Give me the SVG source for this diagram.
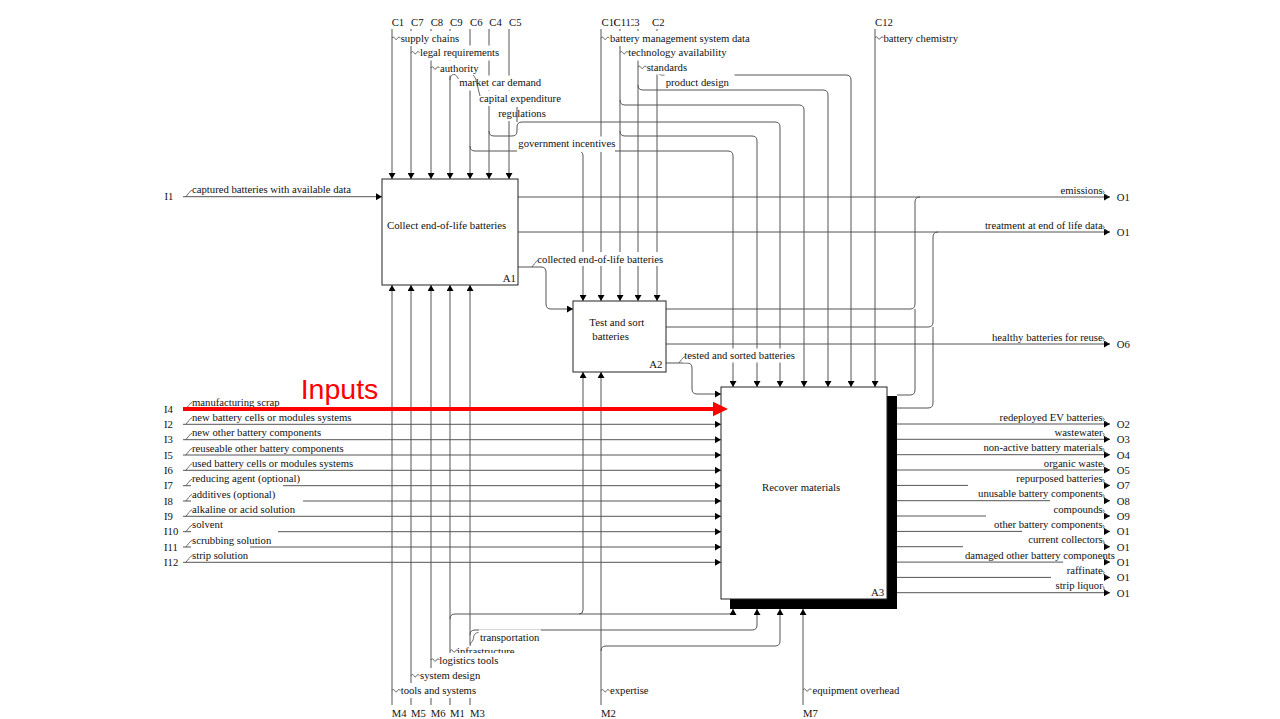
<svg xmlns="http://www.w3.org/2000/svg" xmlns:xlink="http://www.w3.org/1999/xlink" width="1280" height="719" viewBox="0 0 1280 719">
<style>
  .ln{fill:none;stroke:#555;stroke-width:1}
  .ar{marker-end:url(#ah)}
  .bx{fill:#fff;stroke:#222;stroke-width:1}
  .t{font-family:"Liberation Serif","Times New Roman",serif;font-size:10.7px;fill:#111}
  .tb{font-family:"Liberation Serif","Times New Roman",serif;font-size:10.8px;fill:#111}
  .e{text-anchor:end}
  .bg{fill:#fff}
  .sq{fill:none;stroke:#444;stroke-width:0.8}
</style>
<defs>
  <marker id="ah" markerUnits="userSpaceOnUse" markerWidth="6" markerHeight="7" refX="6" refY="3.5" orient="auto">
    <path d="M0,0L6,3.5L0,7z" fill="#000"/>
  </marker>
  <!-- label leader squiggles -->
  <path id="sqIn" d="M0,0c1.2,-0.8 1.2,-2.6 2.4,-3.2c1.2,-0.6 1,-2.4 3.6,-3.3"/>
  <path id="sqTop" d="M0,0c0.8,-1.6 2,-1.6 2.8,0c0.8,1.6 2,1.6 2.8,0c0.8,-1.6 2,-1.6 2.8,0"/>
  <path id="sqOut" d="M0,0c1.6,0 2.2,1.2 1.2,2.2c-0.8,0.9 1.6,1.3 2.2,2.3c0.4,0.8 1,1 1.8,1.2"/>
</defs>

<rect width="1280" height="719" fill="#fff"/>

<g id="connectors" class="ln">
  <!-- controls of A1 -->
  <path class="ar" d="M392,29V179"/>
  <path class="ar" d="M411,29V179"/>
  <path class="ar" d="M431,29V179"/>
  <path class="ar" d="M450,29V179"/>
  <path class="ar" d="M470,29V179"/>
  <path class="ar" d="M489,29V179"/>
  <path class="ar" d="M509,29V179"/>
  <path class="ar" d="M470,146Q470,151 475,151H728Q733,151 733,156V387"/>
  <path class="ar" d="M578,151Q583,151 583,156V301"/>
  <path class="ar" d="M489,131Q489,136 494,136H512Q517,136 517,131V127Q517,122 522,122H775Q780,122 780,127V387"/>
  <!-- controls of A2 / A3 -->
  <path class="ar" d="M601,29V301"/>
  <path class="ar" d="M620,29V301"/>
  <path class="ar" d="M638,29V301"/>
  <path class="ar" d="M657,29V301"/>
  <path class="ar" d="M620,100Q620,105 625,105H799Q804,105 804,110V387"/>
  <path class="ar" d="M620,131Q620,136 625,136H752Q757,136 757,141V387"/>
  <path class="ar" d="M638,85Q638,90 643,90H823Q828,90 828,95V387"/>
  <path class="ar" d="M657,70Q657,75 662,75H846Q851,75 851,80V387"/>
  <path class="ar" d="M875,29V387"/>
  <!-- inputs -->
  <path class="ar" d="M183,196.7H382"/>
  <path class="ar" d="M183,409H721"/>
  <path class="ar" d="M183,424.3H721"/>
  <path class="ar" d="M183,439.7H721"/>
  <path class="ar" d="M183,455H721"/>
  <path class="ar" d="M183,470.3H721"/>
  <path class="ar" d="M183,485.7H721"/>
  <path class="ar" d="M183,501H721"/>
  <path class="ar" d="M183,516.3H721"/>
  <path class="ar" d="M183,531.7H721"/>
  <path class="ar" d="M183,547H721"/>
  <path class="ar" d="M183,562.3H721"/>
  <!-- A1 outputs -->
  <path class="ar" d="M518,197H1110"/>
  <path class="ar" d="M518,232H1110"/>
  <path class="ar" d="M518,267H541Q546,267 546,272V304Q546,309 551,309H573"/>
  <!-- A2 outputs -->
  <path d="M666,309H910Q915,309 915,304V202Q915,197 920,197"/>
  <path d="M666,327H928Q933,327 933,322V237Q933,232 938,232"/>
  <path class="ar" d="M666,344H1110"/>
  <path class="ar" d="M666,363H687Q692,363 692,368V389Q692,394 697,394H721"/>
  <!-- A3 outputs -->
  <path d="M897,395H910Q915,395 915,390V309"/>
  <path d="M897,408H928Q933,408 933,403V327"/>
  <path class="ar" d="M897,424H1110"/>
  <path class="ar" d="M897,439.3H1110"/>
  <path class="ar" d="M897,454.7H1110"/>
  <path class="ar" d="M897,470H1110"/>
  <path class="ar" d="M897,485.4H1110"/>
  <path class="ar" d="M897,500.7H1110"/>
  <path class="ar" d="M897,516H1110"/>
  <path class="ar" d="M897,531.4H1110"/>
  <path class="ar" d="M897,546.7H1110"/>
  <path class="ar" d="M897,562.1H1110"/>
  <path class="ar" d="M897,577.4H1110"/>
  <path class="ar" d="M897,592.7H1110"/>
  <!-- mechanisms -->
  <path class="ar" d="M392,705V285"/>
  <path class="ar" d="M411,705V285"/>
  <path class="ar" d="M431,705V285"/>
  <path class="ar" d="M450,705V285"/>
  <path class="ar" d="M470,705V285"/>
  <path class="ar" d="M450,619Q450,614 455,614H728Q733,614 733,610V609"/>
  <path class="ar" d="M579,614Q583,614 583,610V372"/>
  <path class="ar" d="M470,635Q470,630 475,630H752Q757,630 757,625V609"/>
  <path class="ar" d="M601,705V372"/>
  <path class="ar" d="M601,651Q601,646 606,646H775Q780,646 780,641V609"/>
  <path class="ar" d="M803,705V609"/>
</g>

<g id="arrow-labels">
  <!-- control labels -->
  <rect class="bg" x="399.5" y="31" width="62" height="15"/>
  <text class="t" x="400.7" y="42">supply chains</text>
  <rect class="bg" x="419" y="45.5" width="81" height="15"/>
  <text class="t" x="420" y="56.3">legal requirements</text>
  <rect class="bg" x="439" y="60.5" width="39" height="15"/>
  <text class="t" x="440" y="71.5">authority</text>
  <rect class="bg" x="458" y="75.5" width="88" height="15"/>
  <text class="t" x="459.3" y="86.2">market car demand</text>
  <rect class="bg" x="478" y="91" width="85" height="15"/>
  <text class="t" x="479.3" y="101.8">capital expenditure</text>
  <rect class="bg" x="497" y="106" width="49" height="15"/>
  <text class="t" x="498.3" y="116.8">regulations</text>
  <rect class="bg" x="517" y="136.5" width="98" height="15.5"/>
  <text class="t" x="518.3" y="147">government incentives</text>
  <rect class="bg" x="609" y="31" width="146" height="15"/>
  <text class="t" x="610" y="41.8">battery management system data</text>
  <rect class="bg" x="627" y="45.5" width="98" height="15"/>
  <text class="t" x="628.3" y="56.2">technology availability</text>
  <rect class="bg" x="645.5" y="60.5" width="45" height="14"/>
  <text class="t" x="646.7" y="70.8">standards</text>
  <rect class="bg" x="664.5" y="74" width="70" height="15"/>
  <text class="t" x="665.7" y="85.8">product design</text>
  <rect class="bg" x="882.5" y="31" width="78" height="15"/>
  <text class="t" x="883.5" y="41.5">battery chemistry</text>

  <!-- internal flow labels -->
  <rect class="bg" x="536" y="252" width="130" height="14"/>
  <text class="t" x="537.3" y="263">collected end-of-life batteries</text>
  <rect class="bg" x="683" y="348.5" width="118" height="14"/>
  <text class="t" x="684.3" y="358.7">tested and sorted batteries</text>

  <!-- input labels -->
  <text class="t" x="192" y="193">captured batteries with available data</text>
  <text class="t" x="192" y="405.5">manufacturing scrap</text>
  <text class="t" x="192" y="420.8">new battery cells or modules systems</text>
  <text class="t" x="192" y="436.2">new other battery components</text>
  <text class="t" x="192" y="451.5">reuseable other battery components</text>
  <text class="t" x="192" y="466.8">used battery cells or modules systems</text>
  <text class="t" x="192" y="482.2">reducing agent (optional)</text>
  <rect class="bg" x="191" y="484.5" width="92" height="14"/>
  <text class="t" x="192" y="497.5">additives (optional)</text>
  <rect class="bg" x="191" y="499.8" width="112" height="14"/>
  <text class="t" x="192" y="512.8">alkaline or acid solution</text>
  <text class="t" x="192" y="528.2">solvent</text>
  <rect class="bg" x="191" y="530.5" width="87" height="14"/>
  <text class="t" x="192" y="543.5">scrubbing solution</text>
  <rect class="bg" x="191" y="545.8" width="59" height="14"/>
  <text class="t" x="192" y="558.8">strip solution</text>

  <!-- output labels -->
  <text class="t e" x="1102.7" y="193.5">emissions</text>
  <text class="t e" x="1102.7" y="228.5">treatment at end of life data</text>
  <text class="t e" x="1102.7" y="340.5">healthy batteries for reuse</text>
  <text class="t e" x="1102.7" y="420.7">redeployed EV batteries</text>
  <text class="t e" x="1102.7" y="436">wastewater</text>
  <text class="t e" x="1102.7" y="451.4">non-active battery materials</text>
  <text class="t e" x="1102.7" y="466.7">organic waste</text>
  <text class="t e" x="1102.7" y="482.1">repurposed batteries</text>
  <rect class="bg" x="968" y="484" width="136" height="14"/>
  <text class="t e" x="1102.7" y="497.4">unusable battery components</text>
  <rect class="bg" x="1050" y="499.3" width="54" height="14"/>
  <text class="t e" x="1102.7" y="512.7">compounds</text>
  <rect class="bg" x="986" y="514.6" width="118" height="14"/>
  <text class="t e" x="1102.7" y="528.1">other battery components</text>
  <rect class="bg" x="1022" y="530" width="82" height="14"/>
  <text class="t e" x="1102.7" y="543.4">current collectors</text>
  <rect class="bg" x="963" y="545.3" width="141" height="14"/>
  <text class="t" x="965" y="558.8">damaged other battery components</text>
  <rect class="bg" x="1063" y="560.7" width="41" height="14"/>
  <text class="t e" x="1102.7" y="574.1">raffinate</text>
  <rect class="bg" x="1051" y="576" width="53" height="14"/>
  <text class="t e" x="1102.7" y="589.4">strip liquor</text>

  <!-- mechanism labels -->
  <rect class="bg" x="479" y="629.5" width="62" height="15"/>
  <text class="t" x="480" y="641.2">transportation</text>
  <rect class="bg" x="456" y="644.5" width="60" height="9"/>
  <text class="t" x="457" y="654.5">infrastructure</text>
  <use class="sq" xlink:href="#sqTop" transform="translate(450,651)"/>
  <rect class="bg" x="438" y="653" width="79" height="15"/>
  <text class="t" x="439.3" y="663.5">logistics tools</text>
  <rect class="bg" x="419" y="668" width="63" height="15"/>
  <text class="t" x="420" y="679.2">system design</text>
  <rect class="bg" x="399.5" y="683" width="81" height="15"/>
  <text class="t" x="400.7" y="694.2">tools and systems</text>
  <text class="t" x="610" y="694.2">expertise</text>
  <text class="t" x="812.5" y="693.7">equipment overhead</text>

  <!-- leaders -->
  <g class="sq">
    <use xlink:href="#sqTop" transform="translate(392,38.3)"/>
    <use xlink:href="#sqTop" transform="translate(411,52.7)"/>
    <use xlink:href="#sqTop" transform="translate(431,68)"/>
    <use xlink:href="#sqTop" transform="translate(601,38.3)"/>
    <use xlink:href="#sqTop" transform="translate(620,52.7)"/>
    <use xlink:href="#sqTop" transform="translate(638,67.3)"/>
    <use xlink:href="#sqTop" transform="translate(875,38)"/>
    <use xlink:href="#sqTop" transform="translate(392,690.7)"/>
    <use xlink:href="#sqTop" transform="translate(411,675.7)"/>
    <use xlink:href="#sqTop" transform="translate(431,660)"/>
    <use xlink:href="#sqTop" transform="translate(601,690.7)"/>
    <use xlink:href="#sqTop" transform="translate(803,690)"/>
    <path d="M450,80c0,-4 2,-5.5 4,-5.5c2,0 3,2 4.5,4.5"/>
    <path d="M473,75c2,2 3,4 3.5,7L480,96"/>
    <path d="M517,107V122" stroke="#555" stroke-width="1"/>
    <path d="M470,646c0,-3 2,-4 3,-6c1,-2 0,-4 2,-6c1,-1 2,-1.5 3.5,-1.5"/>
    <use xlink:href="#sqIn" transform="translate(532,267)"/>
    <use xlink:href="#sqIn" transform="translate(679,363)"/>
    <use xlink:href="#sqIn" transform="translate(186,196.7)"/>
    <use xlink:href="#sqIn" transform="translate(186,409)"/>
    <use xlink:href="#sqIn" transform="translate(186,424.3)"/>
    <use xlink:href="#sqIn" transform="translate(186,439.7)"/>
    <use xlink:href="#sqIn" transform="translate(186,455)"/>
    <use xlink:href="#sqIn" transform="translate(186,470.3)"/>
    <use xlink:href="#sqIn" transform="translate(186,485.7)"/>
    <use xlink:href="#sqIn" transform="translate(186,501)"/>
    <use xlink:href="#sqIn" transform="translate(186,516.3)"/>
    <use xlink:href="#sqIn" transform="translate(186,531.7)"/>
    <use xlink:href="#sqIn" transform="translate(186,547)"/>
    <use xlink:href="#sqIn" transform="translate(186,562.3)"/>
    <use xlink:href="#sqOut" transform="translate(1102.5,191)"/>
    <use xlink:href="#sqOut" transform="translate(1102.5,226)"/>
    <use xlink:href="#sqOut" transform="translate(1102.5,338)"/>
    <use xlink:href="#sqOut" transform="translate(1102.5,418)"/>
    <use xlink:href="#sqOut" transform="translate(1102.5,433.3)"/>
    <use xlink:href="#sqOut" transform="translate(1102.5,448.7)"/>
    <use xlink:href="#sqOut" transform="translate(1102.5,464)"/>
    <use xlink:href="#sqOut" transform="translate(1102.5,479.4)"/>
    <use xlink:href="#sqOut" transform="translate(1102.5,494.7)"/>
    <use xlink:href="#sqOut" transform="translate(1102.5,510)"/>
    <use xlink:href="#sqOut" transform="translate(1102.5,525.4)"/>
    <use xlink:href="#sqOut" transform="translate(1102.5,540.7)"/>
    <use xlink:href="#sqOut" transform="translate(1102.5,556.1)"/>
    <use xlink:href="#sqOut" transform="translate(1102.5,571.4)"/>
    <use xlink:href="#sqOut" transform="translate(1102.5,586.7)"/>
  </g>
</g>

<g id="A1">
  <rect class="bx" x="382" y="179" width="136" height="106"/>
  <text class="tb" x="387" y="229">Collect end-of-life batteries</text>
  <text class="tb" x="502.7" y="282">A1</text>
</g>

<g id="A2">
  <rect class="bx" x="573" y="301" width="93" height="71"/>
  <text class="tb" x="589.3" y="326">Test and sort</text>
  <text class="tb" x="592.3" y="339.5">batteries</text>
  <text class="tb" x="649.3" y="367.5">A2</text>
</g>

<g id="A3">
  <rect x="730" y="396" width="167" height="213" fill="#000"/>
  <rect class="bx" x="721" y="387" width="166" height="212"/>
  <text class="tb" x="762" y="491">Recover materials</text>
  <text class="tb" x="871" y="596">A3</text>
</g>

<g id="boundary-labels" class="t">
  <text x="391.7" y="25.5">C1</text>
  <text x="411" y="25.5">C7</text>
  <text x="430.7" y="25.5">C8</text>
  <text x="450" y="25.5">C9</text>
  <text x="470" y="25.5">C6</text>
  <text x="489.3" y="25.5">C4</text>
  <text x="509" y="25.5">C5</text>
  <text x="601.5" y="25.5">C10</text>
  <text x="627" y="25.5">C3</text>
  <rect class="bg" x="615.5" y="15" width="15.5" height="13"/>
  <text x="613.5" y="25.5">C11</text>
  <text x="652" y="25.5">C2</text>
  <text x="875" y="25.5">C12</text>
  <text x="164.5" y="200.4">I1</text>
  <text x="164" y="412.7">I4</text>
  <text x="164" y="428">I2</text>
  <text x="164" y="443.4">I3</text>
  <text x="164" y="458.7">I5</text>
  <text x="164" y="474">I6</text>
  <text x="164" y="489.4">I7</text>
  <text x="164" y="504.7">I8</text>
  <text x="164" y="520">I9</text>
  <text x="164" y="535.4">I10</text>
  <text x="164" y="550.7">I11</text>
  <text x="164" y="566">I12</text>
  <text x="1116.7" y="200.8">O1</text>
  <text x="1116.7" y="235.8">O1</text>
  <text x="1116.7" y="347.8">O6</text>
  <text x="1116.7" y="427.8">O2</text>
  <text x="1116.7" y="443.1">O3</text>
  <text x="1116.7" y="458.5">O4</text>
  <text x="1116.7" y="473.8">O5</text>
  <text x="1116.7" y="489.2">O7</text>
  <text x="1116.7" y="504.5">O8</text>
  <text x="1116.7" y="519.8">O9</text>
  <text x="1116.7" y="535.2">O1</text>
  <text x="1116.7" y="550.5">O1</text>
  <text x="1116.7" y="565.9">O1</text>
  <text x="1116.7" y="581.2">O1</text>
  <text x="1116.7" y="596.5">O1</text>
  <text x="391.7" y="716.5">M4</text>
  <text x="411" y="716.5">M5</text>
  <text x="430.7" y="716.5">M6</text>
  <text x="450" y="716.5">M1</text>
  <text x="470" y="716.5">M3</text>
  <text x="601" y="716.5">M2</text>
  <text x="803" y="716.5">M7</text>
</g>

<g id="annotation">
  <text x="300.7" y="399" font-family="'Liberation Sans', Arial, sans-serif" font-size="28.5" fill="#ff0000">Inputs</text>
  <line x1="183" y1="409" x2="714" y2="409" stroke="#ff0000" stroke-width="4"/>
  <polygon points="713,401.7 728,409 713,416.3" fill="#ff0000"/>
</g>
</svg>
